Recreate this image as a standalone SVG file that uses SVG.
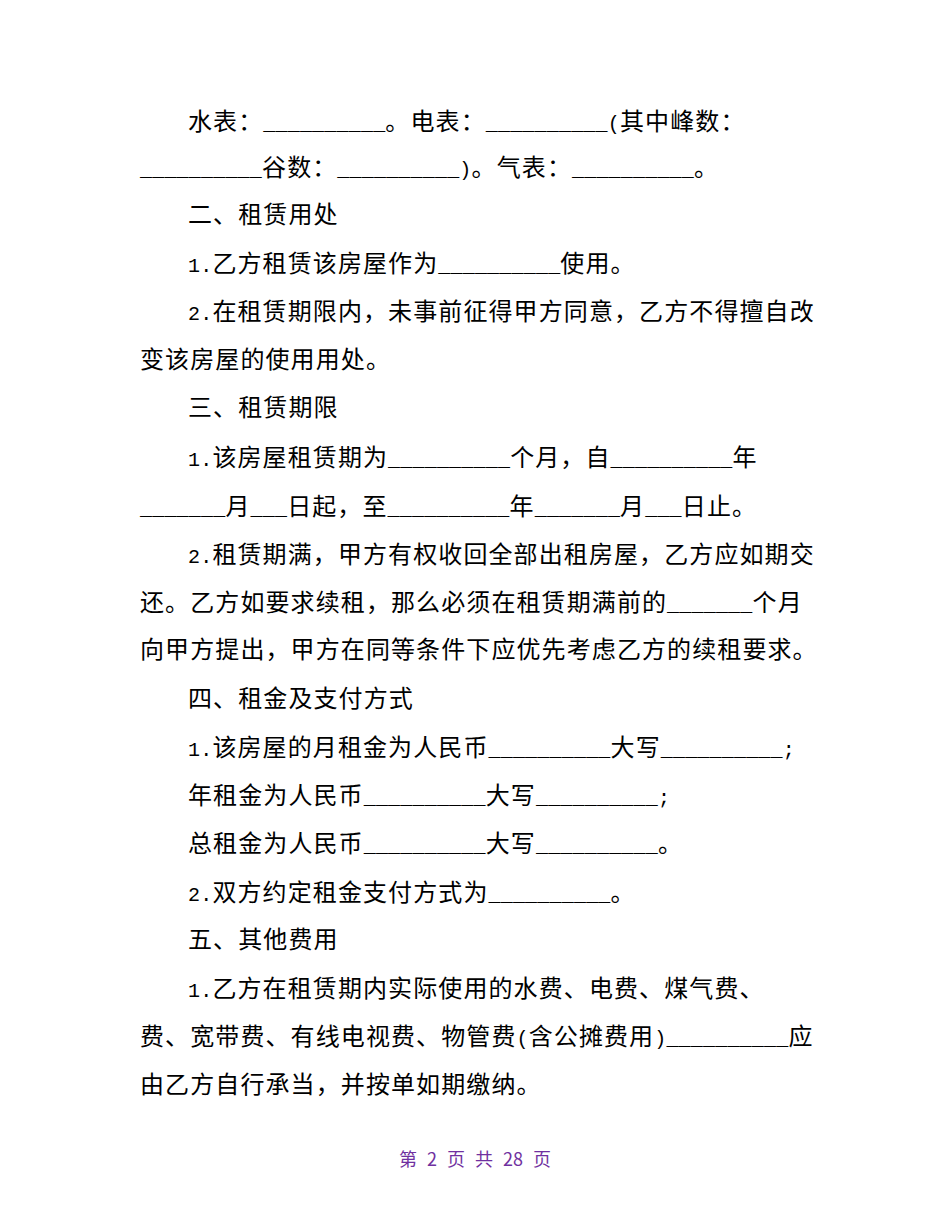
<svg xmlns="http://www.w3.org/2000/svg" width="950" height="1230" viewBox="0 0 950 1230">
<style>
text{font-family:"Noto Sans CJK SC",sans-serif;font-size:24px;letter-spacing:1.1px;fill:#000}
.a{font-family:"Liberation Mono",monospace;font-size:20px;letter-spacing:0.2px}
.f{font-size:18px;fill:#7030a0;letter-spacing:0;word-spacing:6px}
</style>
<rect width="950" height="1230" fill="#fff"/>
<g id="body" transform="translate(0,-3)">
<text x="188" y="133">水表：<tspan class="a">__________</tspan>。电表：<tspan class="a">__________(</tspan>其中峰数：</text>
<text x="140" y="179"><tspan class="a">__________</tspan>谷数：<tspan class="a">__________)</tspan>。气表：<tspan class="a">__________</tspan>。</text>
<text x="188" y="226">二、租赁用处</text>
<text x="188" y="275"><tspan class="a">1.</tspan>乙方租赁该房屋作为<tspan class="a">__________</tspan>使用。</text>
<text x="188" y="323"><tspan class="a">2.</tspan>在租赁期限内，未事前征得甲方同意，乙方不得擅自改</text>
<text x="140" y="371">变该房屋的使用用处。</text>
<text x="188" y="419">三、租赁期限</text>
<text x="188" y="469"><tspan class="a">1.</tspan>该房屋租赁期为<tspan class="a">__________</tspan>个月，自<tspan class="a">__________</tspan>年</text>
<text x="140" y="518"><tspan class="a">_______</tspan>月<tspan class="a">___</tspan>日起，至<tspan class="a">__________</tspan>年<tspan class="a">_______</tspan>月<tspan class="a">___</tspan>日止。</text>
<text x="188" y="566"><tspan class="a">2.</tspan>租赁期满，甲方有权收回全部出租房屋，乙方应如期交</text>
<text x="140" y="614">还。乙方如要求续租，那么必须在租赁期满前的<tspan class="a">_______</tspan>个月</text>
<text x="140" y="661">向甲方提出，甲方在同等条件下应优先考虑乙方的续租要求。</text>
<text x="188" y="710">四、租金及支付方式</text>
<text x="188" y="759"><tspan class="a">1.</tspan>该房屋的月租金为人民币<tspan class="a">__________</tspan>大写<tspan class="a">__________;</tspan></text>
<text x="188" y="807">年租金为人民币<tspan class="a">__________</tspan>大写<tspan class="a">__________;</tspan></text>
<text x="188" y="855">总租金为人民币<tspan class="a">__________</tspan>大写<tspan class="a">__________</tspan>。</text>
<text x="188" y="904"><tspan class="a">2.</tspan>双方约定租金支付方式为<tspan class="a">__________</tspan>。</text>
<text x="188" y="951">五、其他费用</text>
<text x="188" y="1000"><tspan class="a">1.</tspan>乙方在租赁期内实际使用的水费、电费、煤气费、</text>
<text x="140" y="1048">费、宽带费、有线电视费、物管费<tspan class="a">(</tspan>含公摊费用<tspan class="a">)__________</tspan>应</text>
<text x="140" y="1096">由乙方自行承当，并按单如期缴纳。</text>
</g>
<g id="footer"><text class="f" x="475" y="1166" text-anchor="middle">第 2 页 共 28 页</text></g>
</svg>
